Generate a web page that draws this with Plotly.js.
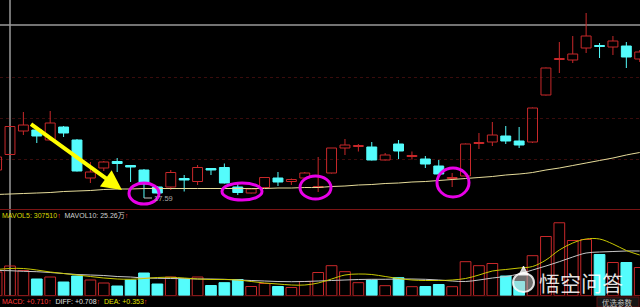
<!DOCTYPE html>
<html><head><meta charset="utf-8">
<script src="https://cdn.plot.ly/plotly-3.0.1.min.js"></script>
<style>html,body{margin:0;padding:0;background:#000;}#chart{width:640px;height:307px;}</style>
</head><body><div id="chart"></div>
<script>
// ---- data ----
const opens  = [18.15,18.46,18.93,18.95,18.75,19.01,18.75,17.99,18.19,18.32,18.24,18.15,17.81,17.81,17.98,17.92,18.18,18.20,17.81,17.69,17.80,17.99,17.92,17.99,17.80,18.09,18.59,18.62,18.61,18.35,18.67,18.42,18.37,18.23,17.98,18.03,18.68,18.71,18.83,18.73,18.71,19.65,20.36,20.35,20.59,20.64,20.61,20.63,20.37];
const highs  = [18.51,19.03,19.31,18.96,19.33,19.03,18.77,18.31,18.33,18.39,18.25,18.17,17.83,18.15,18.05,18.25,18.19,18.28,17.87,17.78,18.01,18.11,17.98,18.11,18.41,18.59,18.77,18.67,18.71,18.49,18.75,18.52,18.43,18.35,18.09,18.68,18.89,19.11,19.03,19.01,19.40,20.20,20.71,20.83,21.29,20.69,20.83,20.71,20.55];
const lows   = [18.11,18.45,18.85,18.69,18.74,18.81,18.12,17.89,18.13,18.11,17.91,17.59,17.67,17.75,17.72,17.85,18.05,17.88,17.65,17.68,17.79,17.83,17.85,17.97,17.71,18.08,18.45,18.52,18.34,18.34,18.37,18.36,18.19,18.06,17.81,18.02,18.57,18.63,18.67,18.59,18.69,19.64,20.09,20.29,20.49,20.39,20.45,20.19,20.31];
const closes = [18.41,19.02,19.05,18.83,19.09,18.89,18.13,18.11,18.31,18.28,18.21,17.87,17.69,18.10,17.95,18.20,18.15,17.89,17.70,17.77,18.00,17.91,17.96,18.09,17.82,18.59,18.65,18.64,18.35,18.45,18.53,18.44,18.27,18.07,18.00,18.67,18.70,18.85,18.73,18.65,19.39,20.19,20.38,20.47,20.83,20.62,20.73,20.41,20.51];
const maLine = [17.66,17.67,17.68,17.69,17.70,17.72,17.73,17.74,17.76,17.77,17.77,17.78,17.78,17.78,17.78,17.78,17.78,17.78,17.78,17.78,17.78,17.79,17.79,17.80,17.80,17.82,17.83,17.85,17.86,17.88,17.89,17.91,17.92,17.94,17.96,17.98,18.00,18.02,18.05,18.07,18.10,18.15,18.19,18.24,18.29,18.34,18.39,18.45,18.50];
const volumes = [258500,324500,275000,181500,203500,148500,214500,170500,137500,104500,170500,247500,126500,203500,181500,203500,110000,141000,176000,99000,132000,99000,88000,154000,253000,328000,262000,141000,170500,108000,196000,97000,99000,121000,97000,372000,328000,352000,214500,154000,438000,649000,800000,605000,616000,451000,363000,363000,308000];
const mavol5 = [286000,297000,297000,280500,258500,242000,225500,209000,192500,181500,178200,187000,198000,200200,192500,181500,176000,176000,170500,154000,137500,126500,115500,115500,137500,181500,225500,236500,231000,209000,187000,170500,165000,165000,170500,187000,225500,269500,286000,302500,319000,390500,500500,577500,621500,621500,566500,495000,445500];
const mavol10 = [275000,272800,266200,261800,253000,242000,231000,225500,220000,209000,203500,192500,189200,187000,184800,181500,181500,178200,170500,165000,159500,154000,151800,154000,159500,165000,170500,176000,178200,178200,181500,181500,178200,170500,159500,154000,170500,192500,209000,236500,280500,324500,371800,423500,467500,478500,484000,489500,489500];
const lowLabel = '17.59';
const volLabels = [['MAVOL5: 307510', '#d8d800'], ['MAVOL10: 25.26万', '#d0d0d0']];
const macdLabels = [['MACD: +0.710', '#ff3a3a'], ['DIFF: +0.708', '#e0e0e0'], ['DEA: +0.353', '#e0e000']];
const watermark = '悟空问答';
const buttonText = '优选参数';

// ---- drawing ----
const W = 640, H = 307;
const px = x => x / W;
const py = y => 1 - y / H;
const idx = opens.map((_, i) => i);
const RED = '#c8282a', CYAN = '#54fcfc';
const isUp = closes.map((c, i) => c >= opens[i]);

function bodyTrace(up) {
  const xs = [], base = [], hts = [];
  idx.forEach(i => {
    if (isUp[i] !== up) return;
    xs.push(i);
    base.push(Math.min(opens[i], closes[i]));
    hts.push(Math.abs(closes[i] - opens[i]));
  });
  return {type: 'bar', x: xs, base: base, y: hts, xaxis: 'x', yaxis: 'y', width: 0.74,
    marker: {color: up ? 'rgba(0,0,0,0)' : CYAN, line: {color: up ? RED : CYAN, width: 1}}, hoverinfo: 'skip'};
}
function wickTrace(up) {
  const xs = [], ys = [];
  idx.forEach(i => {
    if (isUp[i] !== up) return;
    const top = Math.max(opens[i], closes[i]), bot = Math.min(opens[i], closes[i]);
    xs.push(i, i, null, i, i, null);
    ys.push(top, highs[i], null, lows[i], bot, null);
  });
  return {type: 'scatter', mode: 'lines', x: xs, y: ys, xaxis: 'x', yaxis: 'y',
    line: {color: up ? RED : CYAN, width: 1}, connectgaps: false, hoverinfo: 'skip'};
}

const traces = [
  {type: 'bar', x: idx, y: volumes, xaxis: 'x2', yaxis: 'y2', width: 0.8,
   marker: {color: isUp.map(u => u ? 'rgba(0,0,0,0)' : CYAN), line: {color: isUp.map(u => u ? RED : CYAN), width: 1}}, hoverinfo: 'skip'},
  {type: 'scatter', mode: 'lines', x: idx, y: mavol10, xaxis: 'x2', yaxis: 'y2',
   line: {color: '#c8c8c8', width: 1, shape: 'spline'}},
  {type: 'scatter', mode: 'lines', x: idx, y: mavol5, xaxis: 'x2', yaxis: 'y2',
   line: {color: '#c8c800', width: 1, shape: 'spline'}},
  bodyTrace(true), bodyTrace(false),
  wickTrace(true), wickTrace(false),
  {type: 'scatter', mode: 'lines', x: idx, y: maLine, xaxis: 'x', yaxis: 'y',
   line: {color: '#e6dc9a', width: 1, shape: 'spline'}}
];

const FONT = 'Liberation Sans, Arial, Noto Sans CJK SC, sans-serif';
const arrowSpan = '<span style="color:#ff3030">↑</span>';
function line(labels) {
  return labels.map(l => '<span style="color:' + l[1] + '">' + l[0] + '</span>' + arrowSpan).join('  ');
}
const annotations = [
  {text: line(volLabels), xref: 'paper', yref: 'paper', x: px(0), y: py(216), xanchor: 'left', yanchor: 'middle',
   showarrow: false, font: {family: FONT, size: 7, color: '#d0d0d0'}},
  {text: line(macdLabels), xref: 'paper', yref: 'paper', x: px(0), y: py(301), xanchor: 'left', yanchor: 'middle',
   showarrow: false, font: {family: FONT, size: 7, color: '#d0d0d0'}},
  {text: lowLabel, x: 11, y: lows[11], xref: 'x', yref: 'y', showarrow: true,
   arrowhead: 0, arrowwidth: 1, arrowcolor: '#c0c0c0', ax: 8, ay: 0, xanchor: 'left',
   font: {family: FONT, size: 7.5, color: '#a8a8a8'}},
  {text: ' ', xref: 'paper', yref: 'paper', x: px(122), y: py(190),
   showarrow: true, arrowhead: 2, arrowsize: 1, arrowwidth: 4, arrowcolor: '#ffff00', ax: -94, ay: -68},
  {text: watermark, xref: 'paper', yref: 'paper', x: px(581), y: py(282), xanchor: 'center', yanchor: 'middle',
   showarrow: false, font: {family: 'Noto Sans CJK SC, sans-serif', size: 21, color: 'rgba(255,255,255,0.88)'}},
  {text: buttonText, xref: 'paper', yref: 'paper', x: px(617), y: py(302), xanchor: 'center', yanchor: 'middle',
   showarrow: false, font: {family: 'Noto Sans CJK SC, sans-serif', size: 7.5, color: '#c0c0c0'}}
];

function ellipse(x0, x1, y0, y1) {
  return {type: 'circle', xref: 'paper', yref: 'paper', x0: px(x0), x1: px(x1), y0: py(y1), y1: py(y0),
    line: {color: '#e800e8', width: 3}, layer: 'above'};
}
const shapes = [
  {type: 'line', xref: 'x', yref: 'paper', x0: 1, x1: 1, y0: py(296), y1: 1, line: {color: '#9a9a9a', width: 1.5}, layer: 'below'},
  {type: 'line', xref: 'paper', yref: 'y', x0: 0, x1: 1, y0: 21.05, y1: 21.05, line: {color: '#9a9a9a', width: 1.5}, layer: 'below'},
  {type: 'line', xref: 'paper', yref: 'paper', x0: 0, x1: 1, y0: py(209.5), y1: py(209.5), line: {color: '#7a1414', width: 1}, layer: 'below'},
  {type: 'line', xref: 'paper', yref: 'paper', x0: 0, x1: 1, y0: py(295.8), y1: py(295.8), line: {color: '#5a0e0e', width: 1}, layer: 'below'},
  ellipse(129, 159, 183, 204),
  ellipse(222, 262, 183, 200),
  ellipse(300, 331, 176, 199),
  ellipse(437, 469, 168, 197),
  {type: 'circle', xref: 'paper', yref: 'paper', x0: px(513), x1: px(534), y0: py(292), y1: py(273),
   line: {color: 'rgba(255,255,255,0.85)', width: 2}, fillcolor: 'rgba(200,200,200,0.55)', layer: 'above'},
  {type: 'path', xref: 'paper', yref: 'paper',
   path: 'M' + px(519) + ',' + py(275) + ' L' + px(523.5) + ',' + py(266) + ' L' + px(528) + ',' + py(275) + ' Z',
   line: {color: 'rgba(255,255,255,0.85)', width: 1}, fillcolor: 'rgba(255,255,255,0.8)', layer: 'above'},
  {type: 'rect', xref: 'paper', yref: 'paper', x0: px(597), x1: px(639), y0: py(307), y1: py(297),
   line: {color: '#5a0e0e', width: 1}, fillcolor: '#161616', layer: 'above'}
];

const layout = {
  width: W, height: H, margin: {l: 0, r: 0, t: 0, b: 0, pad: 0},
  paper_bgcolor: '#000', plot_bgcolor: '#000', showlegend: false, barmode: 'overlay',
  xaxis: {range: [0.254, 48.02], showgrid: false, zeroline: false, showticklabels: false,
          anchor: 'y', showline: false, ticks: ''},
  xaxis2: {range: [0.254, 48.02], matches: 'x', showgrid: false, zeroline: false, showticklabels: false,
           anchor: 'y2', showline: false, ticks: ''},
  yaxis: {domain: [1 - 208 / H, 1], range: [17.39, 21.55], tickvals: [18.37, 19.19, 20.01],
          showgrid: true, gridcolor: '#3a0c0c', griddash: 'dot', gridwidth: 1,
          zeroline: false, showticklabels: false, ticks: ''},
  yaxis2: {domain: [1 - 295.5 / H, 1 - 209 / H], range: [0, 951500], showgrid: false,
           zeroline: false, showticklabels: false, ticks: ''},
  annotations: annotations, shapes: shapes
};
Plotly.newPlot('chart', traces, layout, {staticPlot: true, displayModeBar: false});
</script>
</body></html>
